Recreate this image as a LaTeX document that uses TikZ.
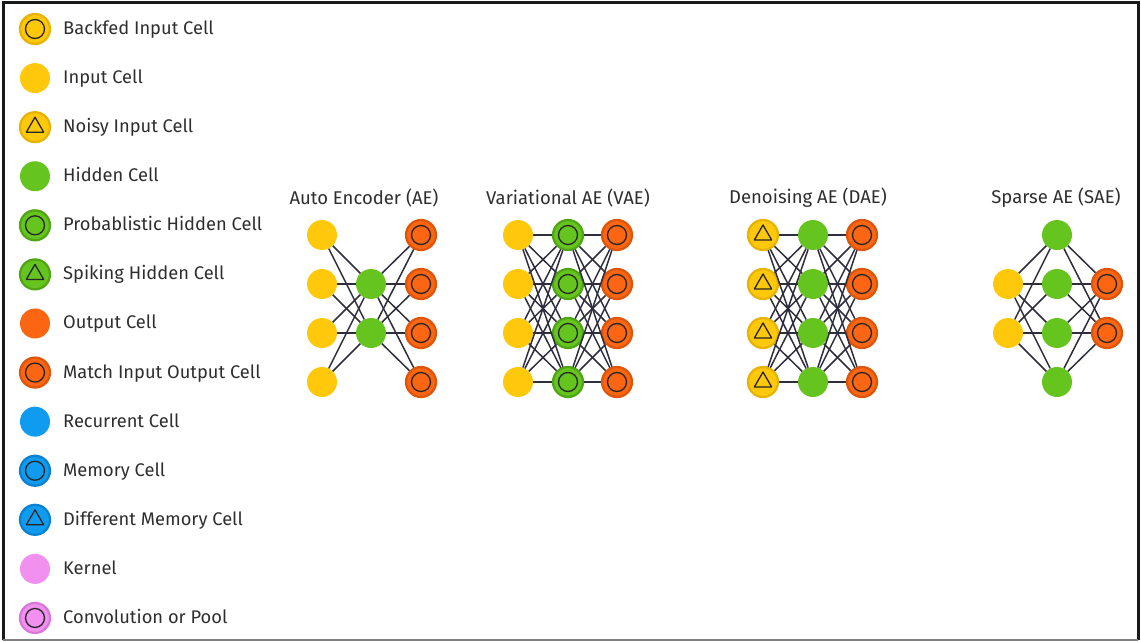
\documentclass[tikz,border=0pt]{standalone}
\usepackage{fontspec}
\setmainfont{Fira Sans}
\definecolor{cyel}{HTML}{FFC80A}
\definecolor{cyeld}{HTML}{E8B200}
\definecolor{cgrn}{HTML}{66C41E}
\definecolor{cgrnd}{HTML}{4FA514}
\definecolor{corg}{HTML}{FC6612}
\definecolor{corgd}{HTML}{DD5508}
\definecolor{cblu}{HTML}{0E9BF0}
\definecolor{cblud}{HTML}{0A80D0}
\definecolor{cpnk}{HTML}{F290F0}
\definecolor{cpnkd}{HTML}{D877D8}
\definecolor{ctxt}{HTML}{2E2E2E}
\definecolor{cline}{HTML}{2E2E3C}
\tikzset{
 cell/.style={circle, minimum size=30pt, inner sep=0pt},
 ringmark/.style={path picture={\draw[black!85, line width=1.3pt] (path picture bounding box.center) circle (9.5pt);}},
 trimark/.style={path picture={\draw[black!85, line width=1.3pt, line join=round, shift={(path picture bounding box.center)}] (90:10pt) -- (210:10pt) -- (330:10pt) -- cycle;}},
 cBackfed/.style={cell, fill=cyel, draw=cyeld, line width=2.2pt, ringmark},
 cInp/.style={cell, fill=cyel},
 cNoisy/.style={cell, fill=cyel, draw=cyeld, line width=2.2pt, trimark},
 cHid/.style={cell, fill=cgrn},
 cProb/.style={cell, fill=cgrn, draw=cgrnd, line width=2.2pt, ringmark},
 cSpike/.style={cell, fill=cgrn, draw=cgrnd, line width=2.2pt, trimark},
 cOut/.style={cell, fill=corg},
 cMatch/.style={cell, fill=corg, draw=corgd, line width=2.2pt, ringmark},
 cRec/.style={cell, fill=cblu},
 cMem/.style={cell, fill=cblu, draw=cblud, line width=2.2pt, ringmark},
 cDmem/.style={cell, fill=cblu, draw=cblud, line width=2.2pt, trimark},
 cKern/.style={cell, fill=cpnk},
 cConv/.style={cell, fill=cpnk, draw=cpnkd, line width=2.2pt, ringmark},
 lbl/.style={font=\fontsize{18.3}{22}\selectfont, text=ctxt, inner sep=0pt, text height=13.5pt, text depth=2.5pt},
 ttl/.style={font=\fontsize{18.5}{22}\selectfont, text=ctxt, inner sep=0pt},
 conn/.style={draw=cline, line width=1.5pt},
 frame/.style={line width=3pt, black!90},
}
\begin{document}
\begin{tikzpicture}[x=1pt, y=-1pt]
\useasboundingbox (0,0) rectangle (1141,642);
\draw[frame] (3,640) -- (3,2.5) -- (1138,2.5) -- (1138,640);
\draw[gray, line width=1.2pt] (3,640) -- (1138,640);

% legend
\foreach \st/\tx [count=\k from 0] in {cBackfed/Backfed Input Cell, cInp/Input Cell, cNoisy/Noisy Input Cell, cHid/Hidden Cell, cProb/Probablistic Hidden Cell, cSpike/Spiking Hidden Cell, cOut/Output Cell, cMatch/Match Input Output Cell, cRec/Recurrent Cell, cMem/Memory Cell, cDmem/Different Memory Cell, cKern/Kernel, cConv/Convolution or Pool} {
  \node[\st] (lg\k) at (35, {29+49.08*\k}) {};
  \node[lbl, anchor=west] (lt\k) at (63, {29+49.08*\k}) {\tx};
}

% titles
\node[ttl] (t-ae) at (364,198) {Auto Encoder (AE)};
\node[ttl] (t-vae) at (568,198) {Variational AE (VAE)};
\node[ttl] (t-dae) at (808,198) {Denoising AE (DAE)};
\node[ttl] (t-sae) at (1056,198) {Sparse AE (SAE)};

% AE
\foreach \r [count=\k] in {235,284,333,382} {
  \node[cInp] (ae-i\k) at (322,\r) {};
  \node[cMatch] (ae-o\k) at (421,\r) {};
}
\node[cHid] (ae-h1) at (371,284) {};
\node[cHid] (ae-h2) at (371,333) {};
\foreach \i in {1,...,4} { \foreach \j in {1,2} {
  \draw[conn] (ae-i\i) -- (ae-h\j);
  \draw[conn] (ae-h\j) -- (ae-o\i);
}}

% VAE
\foreach \r [count=\k] in {235,284,333,382} {
  \node[cInp] (vae-i\k) at (518,\r) {};
  \node[cProb] (vae-h\k) at (568,\r) {};
  \node[cMatch] (vae-o\k) at (617,\r) {};
}
\foreach \i in {1,...,4} { \foreach \j in {1,...,4} {
  \draw[conn] (vae-i\i) -- (vae-h\j);
  \draw[conn] (vae-h\j) -- (vae-o\i);
}}

% DAE
\foreach \r [count=\k] in {235,284,333,382} {
  \node[cNoisy] (dae-i\k) at (763,\r) {};
  \node[cHid] (dae-h\k) at (813,\r) {};
  \node[cMatch] (dae-o\k) at (862,\r) {};
}
\foreach \i in {1,...,4} { \foreach \j in {1,...,4} {
  \draw[conn] (dae-i\i) -- (dae-h\j);
  \draw[conn] (dae-h\j) -- (dae-o\i);
}}

% SAE
\foreach \r [count=\k] in {235,284,333,382} {
  \node[cHid] (sae-h\k) at (1057,\r) {};
}
\foreach \r [count=\k] in {284,333} {
  \node[cInp] (sae-i\k) at (1008,\r) {};
  \node[cMatch] (sae-o\k) at (1107,\r) {};
}
\foreach \i in {1,2} { \foreach \j in {1,...,4} {
  \draw[conn] (sae-i\i) -- (sae-h\j);
  \draw[conn] (sae-h\j) -- (sae-o\i);
}}
\end{tikzpicture}
\end{document}
